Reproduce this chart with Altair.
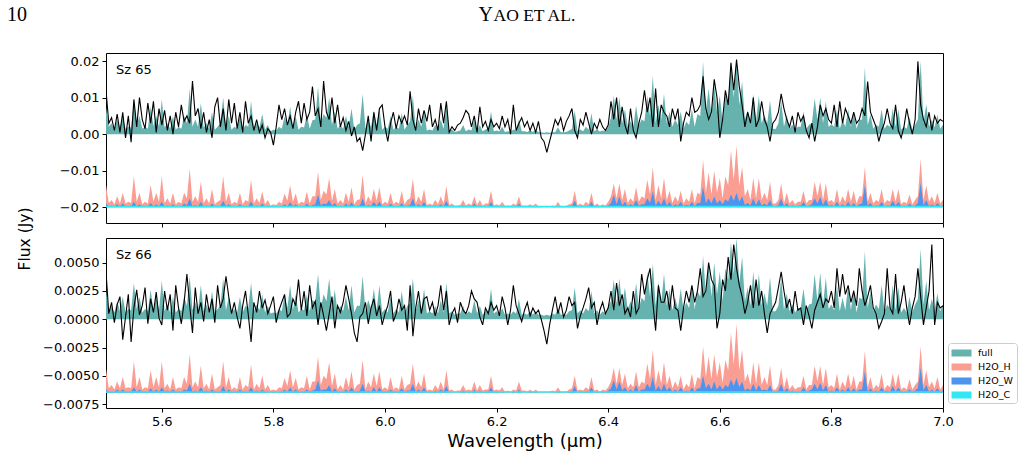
import altair as alt
import pandas as pd

# Wavelength grid (um): spectra and model components sampled every 0.005 um;
# the nearly flat H2O_C component every 0.1 um.
WL = [round(5.5 + 0.005 * i, 3) for i in range(301)]
WL_C = [round(5.5 + 0.1 * i, 1) for i in range(16)]

X_TICKS = [5.6, 5.8, 6.0, 6.2, 6.4, 6.6, 6.8, 7.0]

# ---------------- Sz 65 ----------------
OBS_65 = [
    0.0120, 0.0030, 0.0045, 0.0010, 0.0055, 0.0005, 0.0060, -0.0010, 0.0050, -0.0022,
    0.0095, 0.0020, 0.0100, 0.0040, 0.0015, 0.0085, 0.0030, 0.0090, 0.0005, 0.0070,
    0.0025, 0.0065, 0.0010, 0.0050, 0.0000, 0.0060, 0.0020, 0.0080, 0.0035, 0.0050,
    0.0030, 0.0145, 0.0050, 0.0070, 0.0015, 0.0060, 0.0005, 0.0040, -0.0010, 0.0075,
    0.0100, 0.0020, 0.0070, 0.0010, 0.0095, 0.0030, 0.0085, 0.0015, 0.0060, 0.0005,
    0.0090, 0.0030, 0.0050, 0.0010, 0.0040, 0.0005, 0.0025, -0.0010, 0.0015, 0.0005,
    -0.0030, 0.0020, 0.0080, 0.0040, 0.0070, 0.0025, 0.0050, 0.0015, 0.0060, 0.0090,
    0.0030, 0.0085, 0.0040, 0.0060, 0.0130, 0.0050, 0.0070, 0.0020, 0.0145, 0.0060,
    0.0040, 0.0100, 0.0030, 0.0080, 0.0020, 0.0045, 0.0010, 0.0035, -0.0005, 0.0020,
    -0.0020, -0.0010, -0.0045, 0.0000, 0.0050, -0.0020, 0.0060, 0.0010, 0.0070, 0.0080,
    0.0020, -0.0020, 0.0030, 0.0060, 0.0015, 0.0050, 0.0030, 0.0050, 0.0025, 0.0117,
    0.0040, 0.0010, 0.0070, 0.0030, 0.0065, 0.0035, 0.0080, 0.0020, 0.0040, 0.0010,
    0.0085, 0.0030, 0.0090, 0.0005, 0.0020, 0.0010, 0.0025, 0.0030, 0.0045, 0.0065,
    0.0055, 0.0020, 0.0050, 0.0005, 0.0075, 0.0020, 0.0035, 0.0010, 0.0040, 0.0020,
    0.0030, 0.0015, 0.0050, 0.0020, 0.0040, 0.0000, 0.0080, 0.0010, 0.0030, 0.0045,
    0.0020, 0.0035, 0.0010, 0.0030, 0.0005, 0.0035, -0.0010, -0.0020, -0.0050, -0.0020,
    0.0010, 0.0040, 0.0025, 0.0045, 0.0010, 0.0035, 0.0050, 0.0070, 0.0010, -0.0010,
    0.0040, 0.0025, 0.0060, 0.0030, 0.0000, 0.0030, 0.0015, 0.0040, 0.0020, 0.0010,
    0.0025, 0.0090, 0.0040, 0.0100, 0.0020, 0.0075, 0.0025, 0.0000, 0.0070, 0.0010,
    -0.0010, 0.0030, 0.0060, 0.0120, 0.0060, 0.0100, 0.0020, 0.0125, 0.0020, 0.0080,
    0.0060, 0.0050, 0.0020, 0.0070, 0.0040, 0.0070, -0.0020, 0.0030, 0.0060, 0.0050,
    0.0100, 0.0060, 0.0065, 0.0080, 0.0158, 0.0070, 0.0040, 0.0060, 0.0150, 0.0100,
    -0.0010, 0.0040, 0.0120, 0.0080, 0.0195, 0.0120, 0.0204, 0.0130, 0.0080, 0.0020,
    0.0060, 0.0030, 0.0100, 0.0020, 0.0040, 0.0090, 0.0040, 0.0020, -0.0020, 0.0030,
    0.0040, 0.0060, 0.0110, 0.0070, 0.0040, 0.0020, 0.0050, 0.0005, 0.0060, 0.0035,
    0.0050, 0.0010, -0.0010, 0.0030, -0.0020, 0.0020, 0.0080, 0.0050, 0.0070, 0.0040,
    0.0030, 0.0080, 0.0020, 0.0090, 0.0030, 0.0070, 0.0050, 0.0030, 0.0060, 0.0030,
    0.0040, 0.0070, 0.0050, 0.0144, 0.0060, 0.0040, 0.0020, -0.0020, 0.0010, 0.0030,
    0.0070, 0.0030, 0.0015, 0.0080, 0.0010, -0.0010, 0.0020, 0.0070, 0.0030, 0.0000,
    0.0040, 0.0199, 0.0080, 0.0040, 0.0020, 0.0060, 0.0010, 0.0050, 0.0030, 0.0040,
    0.0035,
]

FULL_65 = [
    0.0075, 0.0020, 0.0030, 0.0012, 0.0040, 0.0018, 0.0050, 0.0015, 0.0020, 0.0018,
    0.0095, 0.0025, 0.0050, 0.0015, 0.0020, 0.0015, 0.0075, 0.0022, 0.0050, 0.0020,
    0.0095, 0.0018, 0.0030, 0.0015, 0.0050, 0.0012, 0.0020, 0.0015, 0.0050, 0.0030,
    0.0125, 0.0020, 0.0040, 0.0020, 0.0085, 0.0018, 0.0030, 0.0015, 0.0060, 0.0012,
    0.0020, 0.0030, 0.0100, 0.0020, 0.0050, 0.0012, 0.0020, 0.0015, 0.0050, 0.0012,
    0.0025, 0.0020, 0.0090, 0.0015, 0.0030, 0.0018, 0.0055, 0.0012, 0.0025, 0.0008,
    0.0012, 0.0010, 0.0020, 0.0015, 0.0048, 0.0025, 0.0075, 0.0020, 0.0048, 0.0012,
    0.0020, 0.0018, 0.0055, 0.0015, 0.0038, 0.0040, 0.0130, 0.0030, 0.0055, 0.0045,
    0.0100, 0.0025, 0.0062, 0.0015, 0.0025, 0.0015, 0.0050, 0.0020, 0.0070, 0.0012,
    0.0025, 0.0030, 0.0110, 0.0015, 0.0038, 0.0020, 0.0065, 0.0025, 0.0070, 0.0012,
    0.0020, 0.0015, 0.0050, 0.0012, 0.0020, 0.0015, 0.0058, 0.0012, 0.0025, 0.0035,
    0.0105, 0.0015, 0.0040, 0.0020, 0.0065, 0.0010, 0.0013, 0.0010, 0.0025, 0.0012,
    0.0040, 0.0015, 0.0078, 0.0010, 0.0013, 0.0006, 0.0008, 0.0010, 0.0025, 0.0008,
    0.0013, 0.0010, 0.0040, 0.0010, 0.0025, 0.0008, 0.0013, 0.0015, 0.0062, 0.0008,
    0.0010, 0.0008, 0.0020, 0.0006, 0.0008, 0.0006, 0.0013, 0.0010, 0.0040, 0.0008,
    0.0008, 0.0006, 0.0010, 0.0006, 0.0013, 0.0005, 0.0005, 0.0004, 0.0005, 0.0004,
    0.0006, 0.0005, 0.0019, 0.0005, 0.0005, 0.0006, 0.0010, 0.0015, 0.0065, 0.0008,
    0.0013, 0.0008, 0.0020, 0.0012, 0.0057, 0.0008, 0.0013, 0.0007, 0.0010, 0.0008,
    0.0020, 0.0045, 0.0105, 0.0040, 0.0100, 0.0030, 0.0068, 0.0020, 0.0035, 0.0020,
    0.0078, 0.0025, 0.0040, 0.0035, 0.0105, 0.0050, 0.0160, 0.0030, 0.0080, 0.0040,
    0.0110, 0.0030, 0.0062, 0.0020, 0.0040, 0.0025, 0.0062, 0.0015, 0.0034, 0.0025,
    0.0068, 0.0020, 0.0055, 0.0050, 0.0199, 0.0060, 0.0125, 0.0050, 0.0135, 0.0060,
    0.0105, 0.0035, 0.0110, 0.0080, 0.0200, 0.0100, 0.0205, 0.0080, 0.0145, 0.0040,
    0.0065, 0.0030, 0.0110, 0.0035, 0.0105, 0.0030, 0.0052, 0.0030, 0.0092, 0.0015,
    0.0014, 0.0030, 0.0092, 0.0020, 0.0054, 0.0015, 0.0026, 0.0012, 0.0020, 0.0020,
    0.0062, 0.0015, 0.0026, 0.0030, 0.0098, 0.0040, 0.0100, 0.0030, 0.0090, 0.0020,
    0.0027, 0.0020, 0.0068, 0.0015, 0.0039, 0.0020, 0.0068, 0.0020, 0.0059, 0.0015,
    0.0039, 0.0040, 0.0183, 0.0025, 0.0054, 0.0015, 0.0026, 0.0020, 0.0068, 0.0015,
    0.0026, 0.0020, 0.0070, 0.0020, 0.0068, 0.0012, 0.0020, 0.0015, 0.0047, 0.0012,
    0.0026, 0.0040, 0.0200, 0.0030, 0.0082, 0.0020, 0.0040, 0.0018, 0.0054, 0.0015,
    0.0026,
]

H2O_H_65 = [
    0.0061, 0.0012, 0.0020, 0.0008, 0.0030, 0.0010, 0.0040, 0.0010, 0.0015, 0.0012,
    0.0085, 0.0015, 0.0040, 0.0008, 0.0015, 0.0010, 0.0061, 0.0015, 0.0040, 0.0015,
    0.0085, 0.0012, 0.0025, 0.0010, 0.0040, 0.0008, 0.0015, 0.0010, 0.0040, 0.0025,
    0.0106, 0.0015, 0.0030, 0.0015, 0.0070, 0.0012, 0.0025, 0.0010, 0.0050, 0.0008,
    0.0015, 0.0020, 0.0085, 0.0015, 0.0040, 0.0008, 0.0015, 0.0010, 0.0040, 0.0008,
    0.0020, 0.0015, 0.0075, 0.0010, 0.0025, 0.0012, 0.0043, 0.0008, 0.0020, 0.0005,
    0.0008, 0.0006, 0.0015, 0.0010, 0.0038, 0.0018, 0.0060, 0.0015, 0.0038, 0.0008,
    0.0015, 0.0012, 0.0043, 0.0010, 0.0030, 0.0030, 0.0097, 0.0020, 0.0045, 0.0035,
    0.0080, 0.0018, 0.0050, 0.0010, 0.0020, 0.0010, 0.0040, 0.0015, 0.0055, 0.0008,
    0.0020, 0.0022, 0.0088, 0.0010, 0.0030, 0.0015, 0.0050, 0.0018, 0.0055, 0.0008,
    0.0015, 0.0010, 0.0040, 0.0008, 0.0015, 0.0010, 0.0045, 0.0008, 0.0020, 0.0025,
    0.0078, 0.0010, 0.0030, 0.0015, 0.0050, 0.0006, 0.0010, 0.0006, 0.0020, 0.0008,
    0.0030, 0.0010, 0.0058, 0.0006, 0.0010, 0.0004, 0.0005, 0.0006, 0.0020, 0.0005,
    0.0010, 0.0006, 0.0030, 0.0006, 0.0020, 0.0005, 0.0010, 0.0010, 0.0045, 0.0005,
    0.0008, 0.0005, 0.0015, 0.0004, 0.0005, 0.0004, 0.0010, 0.0006, 0.0030, 0.0005,
    0.0005, 0.0004, 0.0008, 0.0004, 0.0010, 0.0003, 0.0003, 0.0002, 0.0003, 0.0002,
    0.0005, 0.0003, 0.0015, 0.0003, 0.0003, 0.0004, 0.0008, 0.0010, 0.0045, 0.0005,
    0.0010, 0.0005, 0.0015, 0.0008, 0.0040, 0.0005, 0.0010, 0.0004, 0.0008, 0.0005,
    0.0015, 0.0030, 0.0065, 0.0025, 0.0065, 0.0020, 0.0050, 0.0012, 0.0025, 0.0015,
    0.0055, 0.0015, 0.0030, 0.0025, 0.0075, 0.0035, 0.0110, 0.0020, 0.0060, 0.0025,
    0.0080, 0.0020, 0.0045, 0.0012, 0.0030, 0.0015, 0.0045, 0.0010, 0.0025, 0.0015,
    0.0050, 0.0012, 0.0040, 0.0035, 0.0130, 0.0040, 0.0095, 0.0035, 0.0100, 0.0040,
    0.0080, 0.0025, 0.0085, 0.0060, 0.0155, 0.0075, 0.0168, 0.0060, 0.0110, 0.0030,
    0.0050, 0.0020, 0.0080, 0.0025, 0.0080, 0.0020, 0.0040, 0.0020, 0.0070, 0.0010,
    0.0010, 0.0020, 0.0065, 0.0012, 0.0040, 0.0010, 0.0020, 0.0008, 0.0015, 0.0015,
    0.0045, 0.0010, 0.0020, 0.0020, 0.0070, 0.0030, 0.0070, 0.0020, 0.0065, 0.0015,
    0.0020, 0.0012, 0.0050, 0.0010, 0.0030, 0.0015, 0.0050, 0.0015, 0.0045, 0.0010,
    0.0030, 0.0030, 0.0110, 0.0015, 0.0040, 0.0010, 0.0020, 0.0015, 0.0050, 0.0010,
    0.0020, 0.0015, 0.0050, 0.0015, 0.0050, 0.0008, 0.0015, 0.0010, 0.0035, 0.0008,
    0.0020, 0.0030, 0.0132, 0.0020, 0.0060, 0.0015, 0.0030, 0.0012, 0.0040, 0.0010,
    0.0020,
]

H2O_W_65 = [
    0.0010, 0.0002, 0.0004, 0.0002, 0.0008, 0.0002, 0.0010, 0.0002, 0.0003, 0.0002,
    0.0015, 0.0003, 0.0008, 0.0002, 0.0003, 0.0002, 0.0012, 0.0003, 0.0008, 0.0003,
    0.0015, 0.0002, 0.0005, 0.0002, 0.0008, 0.0002, 0.0003, 0.0002, 0.0010, 0.0005,
    0.0025, 0.0003, 0.0006, 0.0003, 0.0015, 0.0002, 0.0005, 0.0002, 0.0010, 0.0002,
    0.0003, 0.0004, 0.0018, 0.0003, 0.0008, 0.0002, 0.0003, 0.0002, 0.0008, 0.0002,
    0.0004, 0.0003, 0.0016, 0.0002, 0.0005, 0.0002, 0.0010, 0.0002, 0.0004, 0.0001,
    0.0002, 0.0001, 0.0003, 0.0002, 0.0008, 0.0003, 0.0014, 0.0003, 0.0008, 0.0002,
    0.0003, 0.0002, 0.0010, 0.0002, 0.0006, 0.0008, 0.0035, 0.0005, 0.0010, 0.0008,
    0.0020, 0.0004, 0.0012, 0.0002, 0.0004, 0.0002, 0.0010, 0.0003, 0.0014, 0.0002,
    0.0004, 0.0005, 0.0025, 0.0002, 0.0006, 0.0003, 0.0015, 0.0004, 0.0015, 0.0002,
    0.0003, 0.0002, 0.0010, 0.0002, 0.0003, 0.0002, 0.0012, 0.0002, 0.0005, 0.0006,
    0.0025, 0.0002, 0.0008, 0.0003, 0.0015, 0.0001, 0.0002, 0.0001, 0.0005, 0.0002,
    0.0008, 0.0002, 0.0018, 0.0001, 0.0002, 0.0001, 0.0001, 0.0001, 0.0005, 0.0001,
    0.0002, 0.0001, 0.0010, 0.0001, 0.0005, 0.0001, 0.0002, 0.0002, 0.0015, 0.0001,
    0.0002, 0.0001, 0.0004, 0.0001, 0.0001, 0.0001, 0.0003, 0.0001, 0.0010, 0.0001,
    0.0001, 0.0001, 0.0002, 0.0001, 0.0003, 0.0001, 0.0001, 0.0000, 0.0001, 0.0000,
    0.0001, 0.0001, 0.0004, 0.0001, 0.0001, 0.0001, 0.0002, 0.0003, 0.0018, 0.0001,
    0.0003, 0.0001, 0.0004, 0.0002, 0.0015, 0.0001, 0.0003, 0.0001, 0.0002, 0.0001,
    0.0005, 0.0012, 0.0034, 0.0008, 0.0030, 0.0005, 0.0015, 0.0003, 0.0008, 0.0004,
    0.0020, 0.0004, 0.0008, 0.0008, 0.0025, 0.0012, 0.0043, 0.0005, 0.0018, 0.0006,
    0.0025, 0.0005, 0.0015, 0.0003, 0.0008, 0.0004, 0.0015, 0.0003, 0.0007, 0.0004,
    0.0015, 0.0003, 0.0012, 0.0012, 0.0056, 0.0012, 0.0025, 0.0010, 0.0030, 0.0010,
    0.0020, 0.0008, 0.0022, 0.0015, 0.0035, 0.0018, 0.0040, 0.0015, 0.0030, 0.0006,
    0.0012, 0.0005, 0.0025, 0.0006, 0.0022, 0.0005, 0.0010, 0.0005, 0.0020, 0.0002,
    0.0003, 0.0006, 0.0025, 0.0003, 0.0012, 0.0002, 0.0005, 0.0002, 0.0004, 0.0004,
    0.0015, 0.0002, 0.0005, 0.0008, 0.0025, 0.0010, 0.0028, 0.0006, 0.0022, 0.0004,
    0.0006, 0.0003, 0.0015, 0.0002, 0.0008, 0.0003, 0.0015, 0.0003, 0.0012, 0.0002,
    0.0008, 0.0010, 0.0060, 0.0004, 0.0012, 0.0002, 0.0005, 0.0004, 0.0015, 0.0002,
    0.0005, 0.0004, 0.0018, 0.0004, 0.0015, 0.0002, 0.0004, 0.0002, 0.0010, 0.0002,
    0.0005, 0.0012, 0.0067, 0.0005, 0.0020, 0.0003, 0.0008, 0.0003, 0.0012, 0.0002,
    0.0005,
]

H2O_C_65 = [0.0004, 0.0004, 0.0004, 0.0004, 0.0004, 0.0004, 0.0004, 0.0004,
            0.0004, 0.0004, 0.0004, 0.0004, 0.0004, 0.0004, 0.0004, 0.0004]

# ---------------- Sz 66 ----------------
OBS_66 = [
    0.0042, 0.0005, 0.0015, -0.0003, 0.0013, 0.0020, -0.0018, 0.0002, 0.0022, -0.0020,
    0.0010, 0.0026, 0.0004, 0.0012, 0.0028, -0.0004, 0.0018, 0.0006, 0.0024, 0.0001,
    -0.0005, 0.0025, 0.0008, 0.0022, -0.0010, 0.0030, 0.0010, -0.0004, 0.0015, 0.0040,
    0.0012, -0.0012, 0.0028, 0.0005, 0.0015, -0.0002, 0.0022, 0.0006, 0.0018, -0.0003,
    0.0030, 0.0010, 0.0018, 0.0038, 0.0020, 0.0005, 0.0015, 0.0002, -0.0008, 0.0012,
    0.0025, 0.0004, -0.0020, 0.0015, 0.0006, 0.0025, 0.0010, 0.0017, 0.0005, 0.0012,
    0.0020, -0.0003, 0.0008, 0.0015, 0.0022, 0.0002, 0.0005, 0.0018, 0.0012, 0.0035,
    0.0008, 0.0025, 0.0003, 0.0030, 0.0010, 0.0016, -0.0005, 0.0015, 0.0003, -0.0010,
    0.0005, 0.0020, -0.0008, 0.0012, 0.0006, 0.0015, 0.0030, 0.0018, 0.0005, -0.0012,
    -0.0020, 0.0002, 0.0005, 0.0015, -0.0004, 0.0010, 0.0018, 0.0003, 0.0012, -0.0005,
    0.0005, 0.0012, 0.0025, -0.0002, 0.0005, 0.0018, 0.0008, 0.0012, -0.0010, 0.0030,
    -0.0015, 0.0010, 0.0025, 0.0005, 0.0018, 0.0020, 0.0008, 0.0015, 0.0003, 0.0012,
    0.0030, 0.0008, 0.0025, -0.0005, 0.0005, 0.0010, -0.0003, 0.0015, 0.0008, 0.0005,
    0.0012, 0.0025, 0.0018, 0.0015, 0.0002, -0.0005, 0.0010, 0.0005, 0.0015, 0.0008,
    0.0012, 0.0003, 0.0020, 0.0010, -0.0005, 0.0008, 0.0030, 0.0012, 0.0005, -0.0002,
    0.0008, 0.0015, 0.0003, 0.0010, 0.0005, 0.0008, 0.0000, -0.0010, -0.0022, -0.0005,
    0.0008, 0.0020, 0.0005, 0.0015, 0.0002, 0.0008, 0.0020, 0.0012, 0.0015, -0.0008,
    0.0003, 0.0010, 0.0018, 0.0028, 0.0010, 0.0015, -0.0005, 0.0008, 0.0015, 0.0005,
    0.0010, 0.0025, 0.0008, 0.0032, 0.0012, 0.0022, 0.0005, 0.0010, 0.0002, 0.0025,
    0.0005, 0.0010, 0.0040, 0.0022, 0.0035, 0.0045, 0.0015, -0.0010, 0.0030, 0.0015,
    0.0015, 0.0025, 0.0008, 0.0030, 0.0010, 0.0008, -0.0010, 0.0010, 0.0025, 0.0015,
    0.0030, 0.0015, 0.0025, 0.0045, 0.0020, 0.0025, 0.0050, 0.0035, 0.0030, -0.0008,
    0.0005, 0.0035, 0.0025, 0.0055, 0.0035, 0.0066, 0.0045, 0.0030, 0.0020, 0.0005,
    0.0015, 0.0030, 0.0010, 0.0035, 0.0012, 0.0025, 0.0005, -0.0012, 0.0005, 0.0010,
    0.0015, 0.0028, 0.0042, 0.0025, 0.0010, 0.0018, 0.0005, 0.0025, 0.0008, 0.0010,
    -0.0005, 0.0012, 0.0003, -0.0008, 0.0008, 0.0015, 0.0022, 0.0010, 0.0018, 0.0015,
    0.0025, 0.0010, 0.0045, 0.0020, 0.0040, 0.0022, 0.0030, 0.0015, 0.0025, 0.0012,
    0.0045, 0.0025, 0.0012, 0.0020, 0.0030, 0.0010, 0.0005, -0.0008, -0.0002, 0.0005,
    0.0045, 0.0010, 0.0005, 0.0040, 0.0005, 0.0015, 0.0030, 0.0010, -0.0005, 0.0010,
    0.0020, 0.0045, 0.0020, -0.0005, 0.0010, 0.0025, 0.0066, -0.0005, 0.0015, 0.0010,
    0.0012,
]

FULL_66 = [
    0.0026, 0.0008, 0.0011, 0.0006, 0.0016, 0.0007, 0.0020, 0.0006, 0.0009, 0.0008,
    0.0032, 0.0009, 0.0020, 0.0006, 0.0009, 0.0007, 0.0026, 0.0008, 0.0020, 0.0008,
    0.0034, 0.0007, 0.0013, 0.0006, 0.0020, 0.0006, 0.0009, 0.0007, 0.0020, 0.0012,
    0.0038, 0.0008, 0.0015, 0.0008, 0.0030, 0.0007, 0.0013, 0.0006, 0.0025, 0.0006,
    0.0009, 0.0012, 0.0036, 0.0008, 0.0020, 0.0006, 0.0009, 0.0006, 0.0020, 0.0006,
    0.0012, 0.0010, 0.0032, 0.0007, 0.0013, 0.0008, 0.0022, 0.0006, 0.0012, 0.0005,
    0.0006, 0.0005, 0.0009, 0.0007, 0.0022, 0.0010, 0.0030, 0.0008, 0.0022, 0.0006,
    0.0009, 0.0008, 0.0022, 0.0007, 0.0017, 0.0015, 0.0040, 0.0010, 0.0022, 0.0016,
    0.0036, 0.0009, 0.0026, 0.0006, 0.0012, 0.0007, 0.0020, 0.0008, 0.0030, 0.0006,
    0.0012, 0.0012, 0.0038, 0.0007, 0.0017, 0.0009, 0.0027, 0.0008, 0.0030, 0.0006,
    0.0009, 0.0006, 0.0020, 0.0005, 0.0009, 0.0006, 0.0025, 0.0006, 0.0012, 0.0014,
    0.0036, 0.0007, 0.0017, 0.0008, 0.0027, 0.0005, 0.0007, 0.0005, 0.0012, 0.0005,
    0.0017, 0.0006, 0.0032, 0.0005, 0.0007, 0.0004, 0.0005, 0.0005, 0.0012, 0.0004,
    0.0007, 0.0005, 0.0017, 0.0005, 0.0012, 0.0004, 0.0007, 0.0007, 0.0027, 0.0005,
    0.0007, 0.0004, 0.0010, 0.0004, 0.0005, 0.0004, 0.0007, 0.0005, 0.0018, 0.0004,
    0.0005, 0.0004, 0.0007, 0.0004, 0.0007, 0.0004, 0.0004, 0.0003, 0.0004, 0.0003,
    0.0005, 0.0004, 0.0010, 0.0004, 0.0004, 0.0004, 0.0007, 0.0008, 0.0028, 0.0005,
    0.0008, 0.0005, 0.0010, 0.0007, 0.0025, 0.0005, 0.0008, 0.0004, 0.0007, 0.0005,
    0.0012, 0.0016, 0.0035, 0.0014, 0.0036, 0.0012, 0.0028, 0.0009, 0.0016, 0.0010,
    0.0032, 0.0010, 0.0019, 0.0016, 0.0042, 0.0020, 0.0049, 0.0012, 0.0033, 0.0014,
    0.0040, 0.0012, 0.0027, 0.0008, 0.0019, 0.0009, 0.0027, 0.0008, 0.0015, 0.0010,
    0.0030, 0.0009, 0.0025, 0.0020, 0.0056, 0.0022, 0.0048, 0.0020, 0.0050, 0.0022,
    0.0042, 0.0016, 0.0045, 0.0035, 0.0068, 0.0040, 0.0072, 0.0032, 0.0055, 0.0016,
    0.0028, 0.0012, 0.0042, 0.0014, 0.0040, 0.0012, 0.0023, 0.0012, 0.0037, 0.0007,
    0.0007, 0.0012, 0.0037, 0.0008, 0.0023, 0.0007, 0.0013, 0.0006, 0.0010, 0.0010,
    0.0027, 0.0007, 0.0013, 0.0014, 0.0040, 0.0016, 0.0041, 0.0012, 0.0037, 0.0009,
    0.0013, 0.0008, 0.0030, 0.0007, 0.0019, 0.0008, 0.0030, 0.0008, 0.0027, 0.0006,
    0.0019, 0.0018, 0.0060, 0.0010, 0.0024, 0.0007, 0.0013, 0.0009, 0.0030, 0.0007,
    0.0013, 0.0009, 0.0030, 0.0008, 0.0028, 0.0006, 0.0010, 0.0006, 0.0020, 0.0006,
    0.0013, 0.0018, 0.0062, 0.0013, 0.0034, 0.0008, 0.0018, 0.0008, 0.0023, 0.0007,
    0.0013,
]

H2O_H_66 = [
    0.0021, 0.0004, 0.0007, 0.0003, 0.0010, 0.0004, 0.0014, 0.0004, 0.0005, 0.0004,
    0.0028, 0.0005, 0.0014, 0.0003, 0.0005, 0.0004, 0.0020, 0.0005, 0.0014, 0.0005,
    0.0028, 0.0004, 0.0008, 0.0003, 0.0014, 0.0003, 0.0005, 0.0004, 0.0014, 0.0008,
    0.0034, 0.0005, 0.0010, 0.0005, 0.0024, 0.0004, 0.0008, 0.0003, 0.0017, 0.0003,
    0.0005, 0.0007, 0.0028, 0.0005, 0.0014, 0.0003, 0.0005, 0.0003, 0.0014, 0.0003,
    0.0007, 0.0005, 0.0025, 0.0003, 0.0008, 0.0004, 0.0015, 0.0003, 0.0007, 0.0002,
    0.0003, 0.0002, 0.0005, 0.0004, 0.0013, 0.0006, 0.0020, 0.0005, 0.0013, 0.0003,
    0.0005, 0.0004, 0.0015, 0.0003, 0.0010, 0.0010, 0.0032, 0.0007, 0.0015, 0.0012,
    0.0027, 0.0006, 0.0017, 0.0003, 0.0007, 0.0003, 0.0014, 0.0005, 0.0019, 0.0003,
    0.0007, 0.0008, 0.0029, 0.0003, 0.0010, 0.0005, 0.0017, 0.0006, 0.0019, 0.0003,
    0.0005, 0.0003, 0.0014, 0.0003, 0.0005, 0.0003, 0.0015, 0.0003, 0.0007, 0.0008,
    0.0026, 0.0004, 0.0010, 0.0005, 0.0017, 0.0002, 0.0003, 0.0002, 0.0007, 0.0003,
    0.0010, 0.0003, 0.0020, 0.0002, 0.0003, 0.0001, 0.0002, 0.0002, 0.0007, 0.0002,
    0.0003, 0.0002, 0.0010, 0.0002, 0.0007, 0.0002, 0.0003, 0.0003, 0.0015, 0.0002,
    0.0003, 0.0002, 0.0005, 0.0001, 0.0002, 0.0001, 0.0003, 0.0002, 0.0010, 0.0002,
    0.0002, 0.0001, 0.0003, 0.0001, 0.0003, 0.0001, 0.0001, 0.0001, 0.0001, 0.0001,
    0.0002, 0.0001, 0.0005, 0.0001, 0.0001, 0.0001, 0.0003, 0.0004, 0.0015, 0.0002,
    0.0003, 0.0002, 0.0005, 0.0003, 0.0014, 0.0002, 0.0003, 0.0001, 0.0003, 0.0002,
    0.0005, 0.0010, 0.0022, 0.0008, 0.0022, 0.0007, 0.0017, 0.0004, 0.0008, 0.0005,
    0.0019, 0.0005, 0.0010, 0.0008, 0.0026, 0.0012, 0.0038, 0.0007, 0.0020, 0.0008,
    0.0027, 0.0007, 0.0015, 0.0004, 0.0010, 0.0005, 0.0015, 0.0003, 0.0008, 0.0005,
    0.0017, 0.0004, 0.0014, 0.0012, 0.0041, 0.0014, 0.0032, 0.0012, 0.0034, 0.0014,
    0.0027, 0.0009, 0.0029, 0.0020, 0.0053, 0.0025, 0.0061, 0.0020, 0.0038, 0.0010,
    0.0017, 0.0007, 0.0027, 0.0008, 0.0027, 0.0007, 0.0014, 0.0007, 0.0024, 0.0003,
    0.0003, 0.0007, 0.0022, 0.0004, 0.0014, 0.0003, 0.0007, 0.0003, 0.0005, 0.0005,
    0.0015, 0.0003, 0.0007, 0.0007, 0.0024, 0.0010, 0.0024, 0.0007, 0.0022, 0.0005,
    0.0007, 0.0004, 0.0017, 0.0003, 0.0010, 0.0005, 0.0017, 0.0005, 0.0015, 0.0003,
    0.0010, 0.0010, 0.0037, 0.0005, 0.0014, 0.0003, 0.0007, 0.0005, 0.0017, 0.0003,
    0.0007, 0.0005, 0.0017, 0.0005, 0.0017, 0.0003, 0.0005, 0.0003, 0.0012, 0.0003,
    0.0007, 0.0010, 0.0041, 0.0007, 0.0020, 0.0005, 0.0010, 0.0004, 0.0014, 0.0003,
    0.0007,
]

H2O_W_66 = [
    0.0003, 0.0001, 0.0001, 0.0001, 0.0003, 0.0001, 0.0003, 0.0001, 0.0001, 0.0001,
    0.0005, 0.0001, 0.0003, 0.0001, 0.0001, 0.0001, 0.0004, 0.0001, 0.0003, 0.0001,
    0.0005, 0.0001, 0.0002, 0.0001, 0.0003, 0.0001, 0.0001, 0.0001, 0.0003, 0.0002,
    0.0008, 0.0001, 0.0002, 0.0001, 0.0005, 0.0001, 0.0002, 0.0001, 0.0003, 0.0001,
    0.0001, 0.0001, 0.0006, 0.0001, 0.0003, 0.0001, 0.0001, 0.0001, 0.0003, 0.0001,
    0.0001, 0.0001, 0.0005, 0.0001, 0.0002, 0.0001, 0.0003, 0.0001, 0.0001, 0.0000,
    0.0001, 0.0000, 0.0001, 0.0001, 0.0003, 0.0001, 0.0005, 0.0001, 0.0003, 0.0001,
    0.0001, 0.0001, 0.0003, 0.0001, 0.0002, 0.0003, 0.0011, 0.0002, 0.0003, 0.0003,
    0.0007, 0.0001, 0.0004, 0.0001, 0.0001, 0.0001, 0.0003, 0.0001, 0.0005, 0.0001,
    0.0001, 0.0002, 0.0008, 0.0001, 0.0002, 0.0001, 0.0005, 0.0001, 0.0005, 0.0001,
    0.0001, 0.0001, 0.0003, 0.0001, 0.0001, 0.0001, 0.0004, 0.0001, 0.0002, 0.0002,
    0.0008, 0.0001, 0.0003, 0.0001, 0.0005, 0.0000, 0.0001, 0.0000, 0.0002, 0.0001,
    0.0003, 0.0001, 0.0006, 0.0000, 0.0000, 0.0000, 0.0000, 0.0000, 0.0002, 0.0000,
    0.0001, 0.0000, 0.0003, 0.0000, 0.0002, 0.0000, 0.0001, 0.0001, 0.0005, 0.0000,
    0.0001, 0.0000, 0.0001, 0.0000, 0.0000, 0.0000, 0.0001, 0.0000, 0.0003, 0.0000,
    0.0000, 0.0000, 0.0001, 0.0000, 0.0001, 0.0000, 0.0000, 0.0000, 0.0000, 0.0000,
    0.0000, 0.0000, 0.0001, 0.0000, 0.0000, 0.0000, 0.0001, 0.0001, 0.0006, 0.0000,
    0.0001, 0.0000, 0.0001, 0.0001, 0.0005, 0.0000, 0.0001, 0.0000, 0.0001, 0.0000,
    0.0002, 0.0004, 0.0011, 0.0003, 0.0010, 0.0002, 0.0005, 0.0001, 0.0003, 0.0001,
    0.0007, 0.0001, 0.0003, 0.0003, 0.0008, 0.0004, 0.0014, 0.0002, 0.0006, 0.0002,
    0.0008, 0.0002, 0.0005, 0.0001, 0.0003, 0.0001, 0.0005, 0.0001, 0.0002, 0.0001,
    0.0005, 0.0001, 0.0004, 0.0004, 0.0015, 0.0004, 0.0008, 0.0003, 0.0010, 0.0003,
    0.0007, 0.0003, 0.0007, 0.0005, 0.0012, 0.0006, 0.0013, 0.0005, 0.0010, 0.0002,
    0.0004, 0.0002, 0.0008, 0.0002, 0.0007, 0.0002, 0.0003, 0.0002, 0.0007, 0.0001,
    0.0001, 0.0002, 0.0008, 0.0001, 0.0004, 0.0001, 0.0002, 0.0001, 0.0001, 0.0001,
    0.0005, 0.0001, 0.0002, 0.0003, 0.0008, 0.0003, 0.0009, 0.0002, 0.0007, 0.0001,
    0.0002, 0.0001, 0.0005, 0.0001, 0.0003, 0.0001, 0.0005, 0.0001, 0.0004, 0.0001,
    0.0003, 0.0003, 0.0019, 0.0001, 0.0004, 0.0001, 0.0002, 0.0001, 0.0005, 0.0001,
    0.0002, 0.0001, 0.0006, 0.0001, 0.0005, 0.0001, 0.0001, 0.0001, 0.0003, 0.0001,
    0.0002, 0.0004, 0.0022, 0.0002, 0.0007, 0.0001, 0.0003, 0.0001, 0.0004, 0.0001,
    0.0002,
]

H2O_C_66 = [0.00015, 0.00015, 0.00015, 0.00015, 0.00015, 0.00015, 0.00015, 0.00015,
            0.00015, 0.00015, 0.00015, 0.00015, 0.00015, 0.00015, 0.00015, 0.00015]

for arr in (OBS_65, FULL_65, H2O_H_65, H2O_W_65,
            OBS_66, FULL_66, H2O_H_66, H2O_W_66):
    assert len(arr) == len(WL), len(arr)

COMPONENTS = ["full", "H2O_H", "H2O_W", "H2O_C"]
COLORS = ["#66b2ae", "#fa9e94", "#4c94ee", "#30e8f2"]

PANEL_W = 837
PANEL_H = 170
FONT = "DejaVu Sans"


def panel(label, obs, full, h2o_h, h2o_w, h2o_c, offset, ydom, yticks, yfmt,
          bottom):
    obs_df = pd.DataFrame({"wl": WL, "flux": obs})
    full_df = pd.DataFrame({"wl": WL, "flux": full, "base": 0.0,
                            "comp": "full"})
    # model components are plotted shifted down by a constant offset
    h_df = pd.DataFrame({"wl": WL, "flux": [offset + v for v in h2o_h],
                         "base": offset, "comp": "H2O_H"})
    w_df = pd.DataFrame({"wl": WL, "flux": [offset + v for v in h2o_w],
                         "base": offset, "comp": "H2O_W"})
    c_df = pd.DataFrame({"wl": WL_C, "flux": [offset + v for v in h2o_c],
                         "base": offset, "comp": "H2O_C"})

    if bottom:
        xaxis = alt.Axis(values=X_TICKS, format=".1f", title="Wavelength (μm)",
                         labelFlush=False, titlePadding=4)
    else:
        xaxis = alt.Axis(values=X_TICKS, labels=False, title=None)
    yaxis = alt.Axis(values=yticks, format=yfmt, title=None)

    x = alt.X("wl:Q", scale=alt.Scale(domain=[5.5, 7.0], nice=False, zero=False),
              axis=xaxis)
    y = alt.Y("flux:Q", scale=alt.Scale(domain=ydom, nice=False, zero=False),
              axis=yaxis)
    y2 = alt.Y2("base:Q")

    cscale = alt.Scale(domain=COMPONENTS, range=COLORS)
    legend = alt.Legend(
        orient="none", legendX=842, legendY=290, title=None,
        symbolType="M-1,-0.54H2.08V0.54H-1Z", symbolSize=169,
        symbolStrokeWidth=0, symbolOpacity=1, labelFont=FONT, labelFontSize=9.5,
        labelColor="black", strokeColor="#cccccc", fillColor="white",
        padding=3.5, cornerRadius=3, rowPadding=3, labelOffset=13.5,
    )

    def area(df, idx):
        enc = dict(x=x, y=y, y2=y2)
        if bottom:
            enc["color"] = alt.Color("comp:N", scale=cscale,
                                     legend=legend if idx == 0 else None)
            mark = alt.Chart(df).mark_area(opacity=1, clip=True,
                                           interpolate="linear")
        else:
            mark = alt.Chart(df).mark_area(opacity=1, clip=True,
                                           interpolate="linear",
                                           color=COLORS[idx])
        return mark.encode(**enc)

    layers = [
        area(full_df, 0),
        area(h_df, 1),
        area(w_df, 2),
        area(c_df, 3),
        alt.Chart(obs_df).mark_line(color="black", strokeWidth=1.1, clip=True)
        .encode(x=x, y=y),
        alt.Chart(pd.DataFrame({"t": [label]})).mark_text(
            font=FONT, fontSize=13, align="left", baseline="alphabetic",
            color="black").encode(text="t:N", x=alt.value(10), y=alt.value(21)),
    ]

    if not bottom:
        layers += [
            alt.Chart(pd.DataFrame({"t": ["10"]})).mark_text(
                font="Liberation Serif", fontSize=20, align="left",
                baseline="alphabetic", color="black")
            .encode(text="t:N", x=alt.value(-99), y=alt.value(-32)),
            alt.Chart(pd.DataFrame({"t": ["Y"]})).mark_text(
                font="Liberation Serif", fontSize=20, align="right",
                baseline="alphabetic", color="black")
            .encode(text="t:N", x=alt.value(387), y=alt.value(-32)),
            alt.Chart(pd.DataFrame({"t": ["AO ET AL."]})).mark_text(
                font="Liberation Serif", fontSize=17.5, align="left",
                baseline="alphabetic", color="black")
            .encode(text="t:N", x=alt.value(387.5), y=alt.value(-32)),
        ]
    else:
        layers.append(
            alt.Chart(pd.DataFrame({"t": ["Flux (Jy)"]})).mark_text(
                font=FONT, fontSize=15.5, angle=270, align="center",
                baseline="middle", color="black")
            .encode(text="t:N", x=alt.value(-81), y=alt.value(1))
        )

    return alt.layer(*layers).properties(width=PANEL_W, height=PANEL_H)


top = panel("Sz 65", OBS_65, FULL_65, H2O_H_65, H2O_W_65, H2O_C_65,
            offset=-0.020, ydom=[-0.0243, 0.0222],
            yticks=[-0.02, -0.01, 0.0, 0.01, 0.02], yfmt=".2f", bottom=False)
bot = panel("Sz 66", OBS_66, FULL_66, H2O_H_66, H2O_W_66, H2O_C_66,
            offset=-0.0065, ydom=[-0.00784, 0.00718],
            yticks=[-0.0075, -0.005, -0.0025, 0.0, 0.0025, 0.005], yfmt=".4f",
            bottom=True)

chart = (
    alt.vconcat(top, bot, spacing=15, bounds="flush")
    .properties(padding={"left": 6, "top": 4, "right": 5, "bottom": 5},
                background="white")
    .configure_view(stroke="black", strokeWidth=1)
    .configure_axis(
        labelFont=FONT, labelFontSize=13, labelColor="black",
        tickColor="black", tickWidth=1, tickSize=4, labelPadding=3,
        titleFont=FONT, titleFontSize=18, titleFontWeight="normal",
        titleColor="black", domain=False, grid=False,
    )
)

chart.save("out.html", embed_options={"renderer": "svg", "actions": False})
